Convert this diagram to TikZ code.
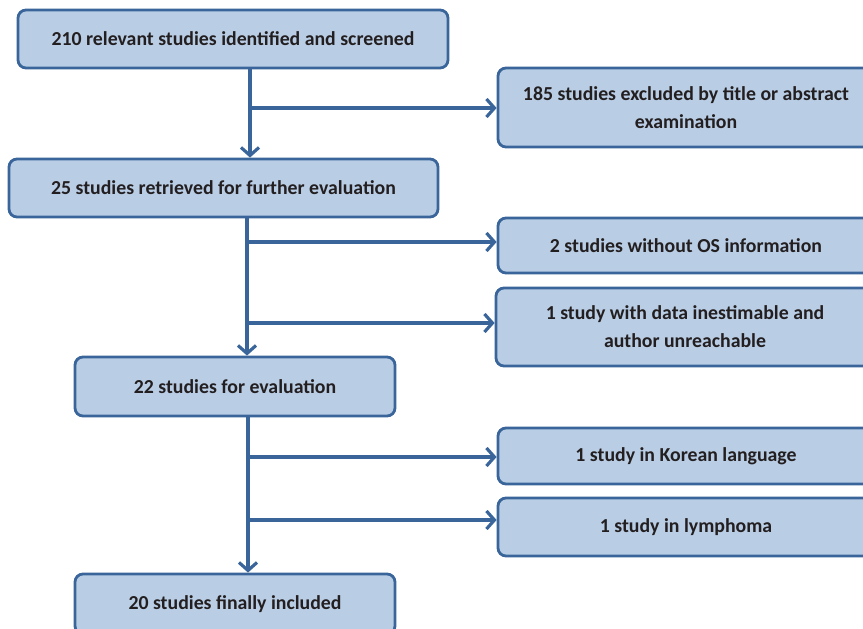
\documentclass[tikz,border=0pt]{standalone}
\usepackage{fontspec}
\setmainfont{Carlito}
\usetikzlibrary{arrows.meta}
\definecolor{boxfill}{HTML}{B9CDE5}
\definecolor{boxline}{HTML}{3A659A}
\definecolor{txt}{HTML}{231F20}
\begin{document}
\begin{tikzpicture}[x=1pt,y=-1pt,
  box/.style={draw=boxline, fill=boxfill, line width=2.8pt, rounded corners=8pt,
    inner sep=0pt, text=txt, font=\fontsize{19.8}{28}\selectfont\bfseries, align=center},
  conn/.style={draw=boxline, line width=3.2pt},
  arr/.style={conn, -{Straight Barb[length=8pt,width=18pt,line width=3.2pt]}}]
\useasboundingbox (0,0) rectangle (863,629);

\node[box, minimum width=430pt, minimum height=58pt] (b1) at (233,39) {210 relevant studies identified and screened};
\node[box, minimum width=429pt, minimum height=58pt] (b2) at (223.5,188) {25 studies retrieved for further evaluation};
\node[box, minimum width=320pt, minimum height=59pt] (b3) at (235,386.5) {22 studies for evaluation};
\node[box, minimum width=320pt, minimum height=60pt] (b4) at (235,604) {20 studies finally included};

\node[box, minimum width=376pt, minimum height=79pt] (e1) at (686,107.5) {185 studies excluded by title or abstract\\examination};
\node[box, minimum width=376pt, minimum height=55pt] (e2) at (686,245.5) {2 studies without OS information};
\node[box, minimum width=378pt, minimum height=78pt] (e3) at (685,327) {1 study with data inestimable and\\author unreachable};
\node[box, minimum width=376pt, minimum height=56pt] (e4) at (686,456) {1 study in Korean language};
\node[box, minimum width=376pt, minimum height=58pt] (e5) at (686,527) {1 study in lymphoma};

\coordinate (v1) at (250,108);
\coordinate (v2a) at (247,242);
\coordinate (v2b) at (247,323);
\coordinate (v3a) at (248,457);
\coordinate (v3b) at (248,520);

\draw[arr] (v1 |- b1.south) -- (v1 |- b2.north);
\draw[arr] (v1) -- (v1 -| e1.west);
\draw[arr] (v2a |- b2.south) -- (v2a |- b3.north);
\draw[arr] (v2a) -- (v2a -| e2.west);
\draw[arr] (v2b) -- (v2b -| e3.west);
\draw[arr] (v3a |- b3.south) -- (v3a |- b4.north);
\draw[arr] (v3a) -- (v3a -| e4.west);
\draw[arr] (v3b) -- (v3b -| e5.west);
\end{tikzpicture}
\end{document}
